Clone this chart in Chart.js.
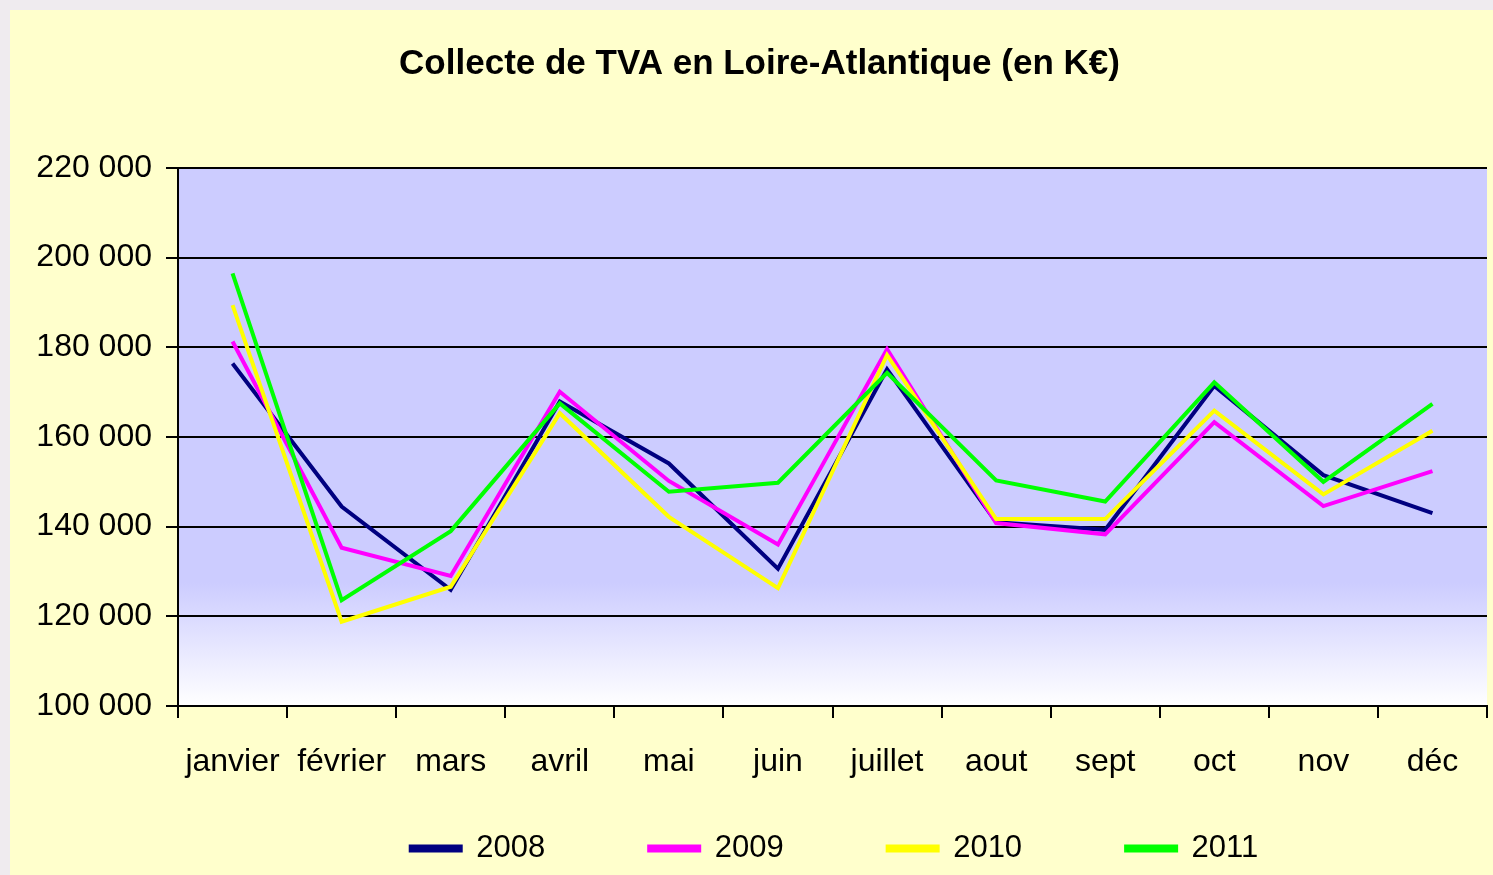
<!DOCTYPE html>
<html lang="fr">
<head>
<meta charset="utf-8">
<title>Collecte de TVA en Loire-Atlantique</title>
<script src="https://cdn.jsdelivr.net/npm/chart.js@4"></script>
<style>
    html, body { margin: 0; padding: 0; background: #ffffcc; }
    #boite { width: 1493px; height: 875px; }
</style>
</head>
<body>
<div id="boite"><canvas id="canvasTva"></canvas></div>
<script>
const mois = ['janvier', 'février', 'mars', 'avril', 'mai', 'juin', 'juillet', 'aout', 'sept', 'oct', 'nov', 'déc'];

const tva2008 = [176400, 144500, 125900, 167900, 154100, 130600, 175100, 141000, 139300, 171400, 151500, 143000];
const tva2009 = [181300, 135300, 129000, 170100, 150200, 136000, 179600, 140800, 138300, 163300, 144600, 152400];
const tva2010 = [189400, 118800, 126600, 165300, 142200, 126300, 178300, 141700, 141700, 165900, 147200, 161400];
const tva2011 = [196500, 123600, 139000, 167500, 147800, 149800, 174300, 150300, 145600, 172200, 150000, 167400];

const titreGraphique = 'Collecte de TVA en Loire-Atlantique (en K€)';
const minAxeY = 100000;
const maxAxeY = 220000;
const pasAxeY = 20000;

function formaterMilliers(valeur) {
    return valeur.toString().replace(/\B(?=(\d{3})+(?!\d))/g, ' ');
}

// fond jaune, bord gris, zone de tracé en dégradé lavande -> blanc
const pluginFond = {
    id: 'fond',
    beforeDraw(chart) {
        const { ctx, chartArea, width, height } = chart;
        ctx.save();
        ctx.fillStyle = '#efebef';
        ctx.fillRect(0, 0, width, height);
        ctx.fillStyle = '#ffffcc';
        ctx.fillRect(10, 10, width - 10, height - 10);
        const degrade = ctx.createLinearGradient(0, chartArea.top, 0, chartArea.bottom);
        degrade.addColorStop(0, '#ccccff');
        degrade.addColorStop(0.77, '#ccccff');
        degrade.addColorStop(1, '#ffffff');
        ctx.fillStyle = degrade;
        ctx.fillRect(chartArea.left, chartArea.top, chartArea.right - chartArea.left, chartArea.bottom - chartArea.top);
        ctx.restore();
    },
    afterLayout(chart) {
        // la légende et le titre ne sont pas centrés sur le canvas dans l'original
        chart.legend.left += 86;
        chart.legend.right += 86;
        chart.titleBlock.left += 11;
        chart.titleBlock.right += 11;
        // l'axe x garde sa place mais ses étiquettes ne doivent pas être coupées
        const axeX = chart.scales.x;
        axeX.bottom = axeX.top + 110;
        axeX.height = 110;
    }
};

function serie(label, donnees, couleur, ordre) {
    return {
        label: label,
        data: donnees,
        borderColor: couleur,
        backgroundColor: couleur,
        borderWidth: 4,
        pointRadius: 0,
        pointHoverRadius: 0,
        tension: 0,
        fill: false,
        order: ordre
    };
}

const ctx = document.getElementById('canvasTva').getContext('2d');
const graphique = new Chart(ctx, {
    type: 'line',
    data: {
        labels: mois,
        datasets: [
            serie('2008', tva2008, '#000080', 3),
            serie('2009', tva2009, '#ff00ff', 2),
            serie('2010', tva2010, '#ffff00', 1),
            serie('2011', tva2011, '#00ff00', 0)
        ]
    },
    plugins: [pluginFond],
    options: {
        responsive: true,
        maintainAspectRatio: false,
        animation: false,
        events: [],
        layout: { padding: { left: 10, right: 6, top: 10, bottom: 1 } },
        plugins: {
            title: {
                display: true,
                text: titreGraphique,
                color: '#000000',
                font: { family: '"Liberation Sans", Arial, sans-serif', size: 35, weight: 'bold' },
                padding: { top: 33, bottom: 83 }
            },
            legend: {
                position: 'bottom',
                labels: {
                    color: '#000000',
                    font: { family: '"Liberation Sans", Arial, sans-serif', size: 31 },
                    boxWidth: 50,
                    boxHeight: 4,
                    padding: 104,
                    sort: (a, b) => a.datasetIndex - b.datasetIndex
                }
            },
            tooltip: { enabled: false }
        },
        scales: {
            x: {
                offset: true,
                afterFit: (echelle) => { echelle.height = 23; },
                grid: {
                    offset: true,
                    drawOnChartArea: false,
                    drawTicks: true,
                    tickLength: 12,
                    color: '#000000',
                    lineWidth: 2
                },
                border: { color: '#000000', width: 2 },
                ticks: {
                    color: '#000000',
                    padding: 25,
                    maxRotation: 0,
                    autoSkip: false,
                    font: { family: '"Liberation Sans", Arial, sans-serif', size: 32 }
                }
            },
            y: {
                min: minAxeY,
                max: maxAxeY,
                afterFit: (echelle) => { echelle.width = 168; },
                grid: {
                    color: '#000000',
                    lineWidth: 2,
                    drawTicks: true,
                    tickLength: 12
                },
                border: { color: '#000000', width: 2 },
                ticks: {
                    stepSize: pasAxeY,
                    color: '#000000',
                    padding: 14,
                    font: { family: '"Liberation Sans", Arial, sans-serif', size: 32 },
                    callback: (valeur) => formaterMilliers(valeur)
                }
            }
        }
    }
});
</script>
</body>
</html>
